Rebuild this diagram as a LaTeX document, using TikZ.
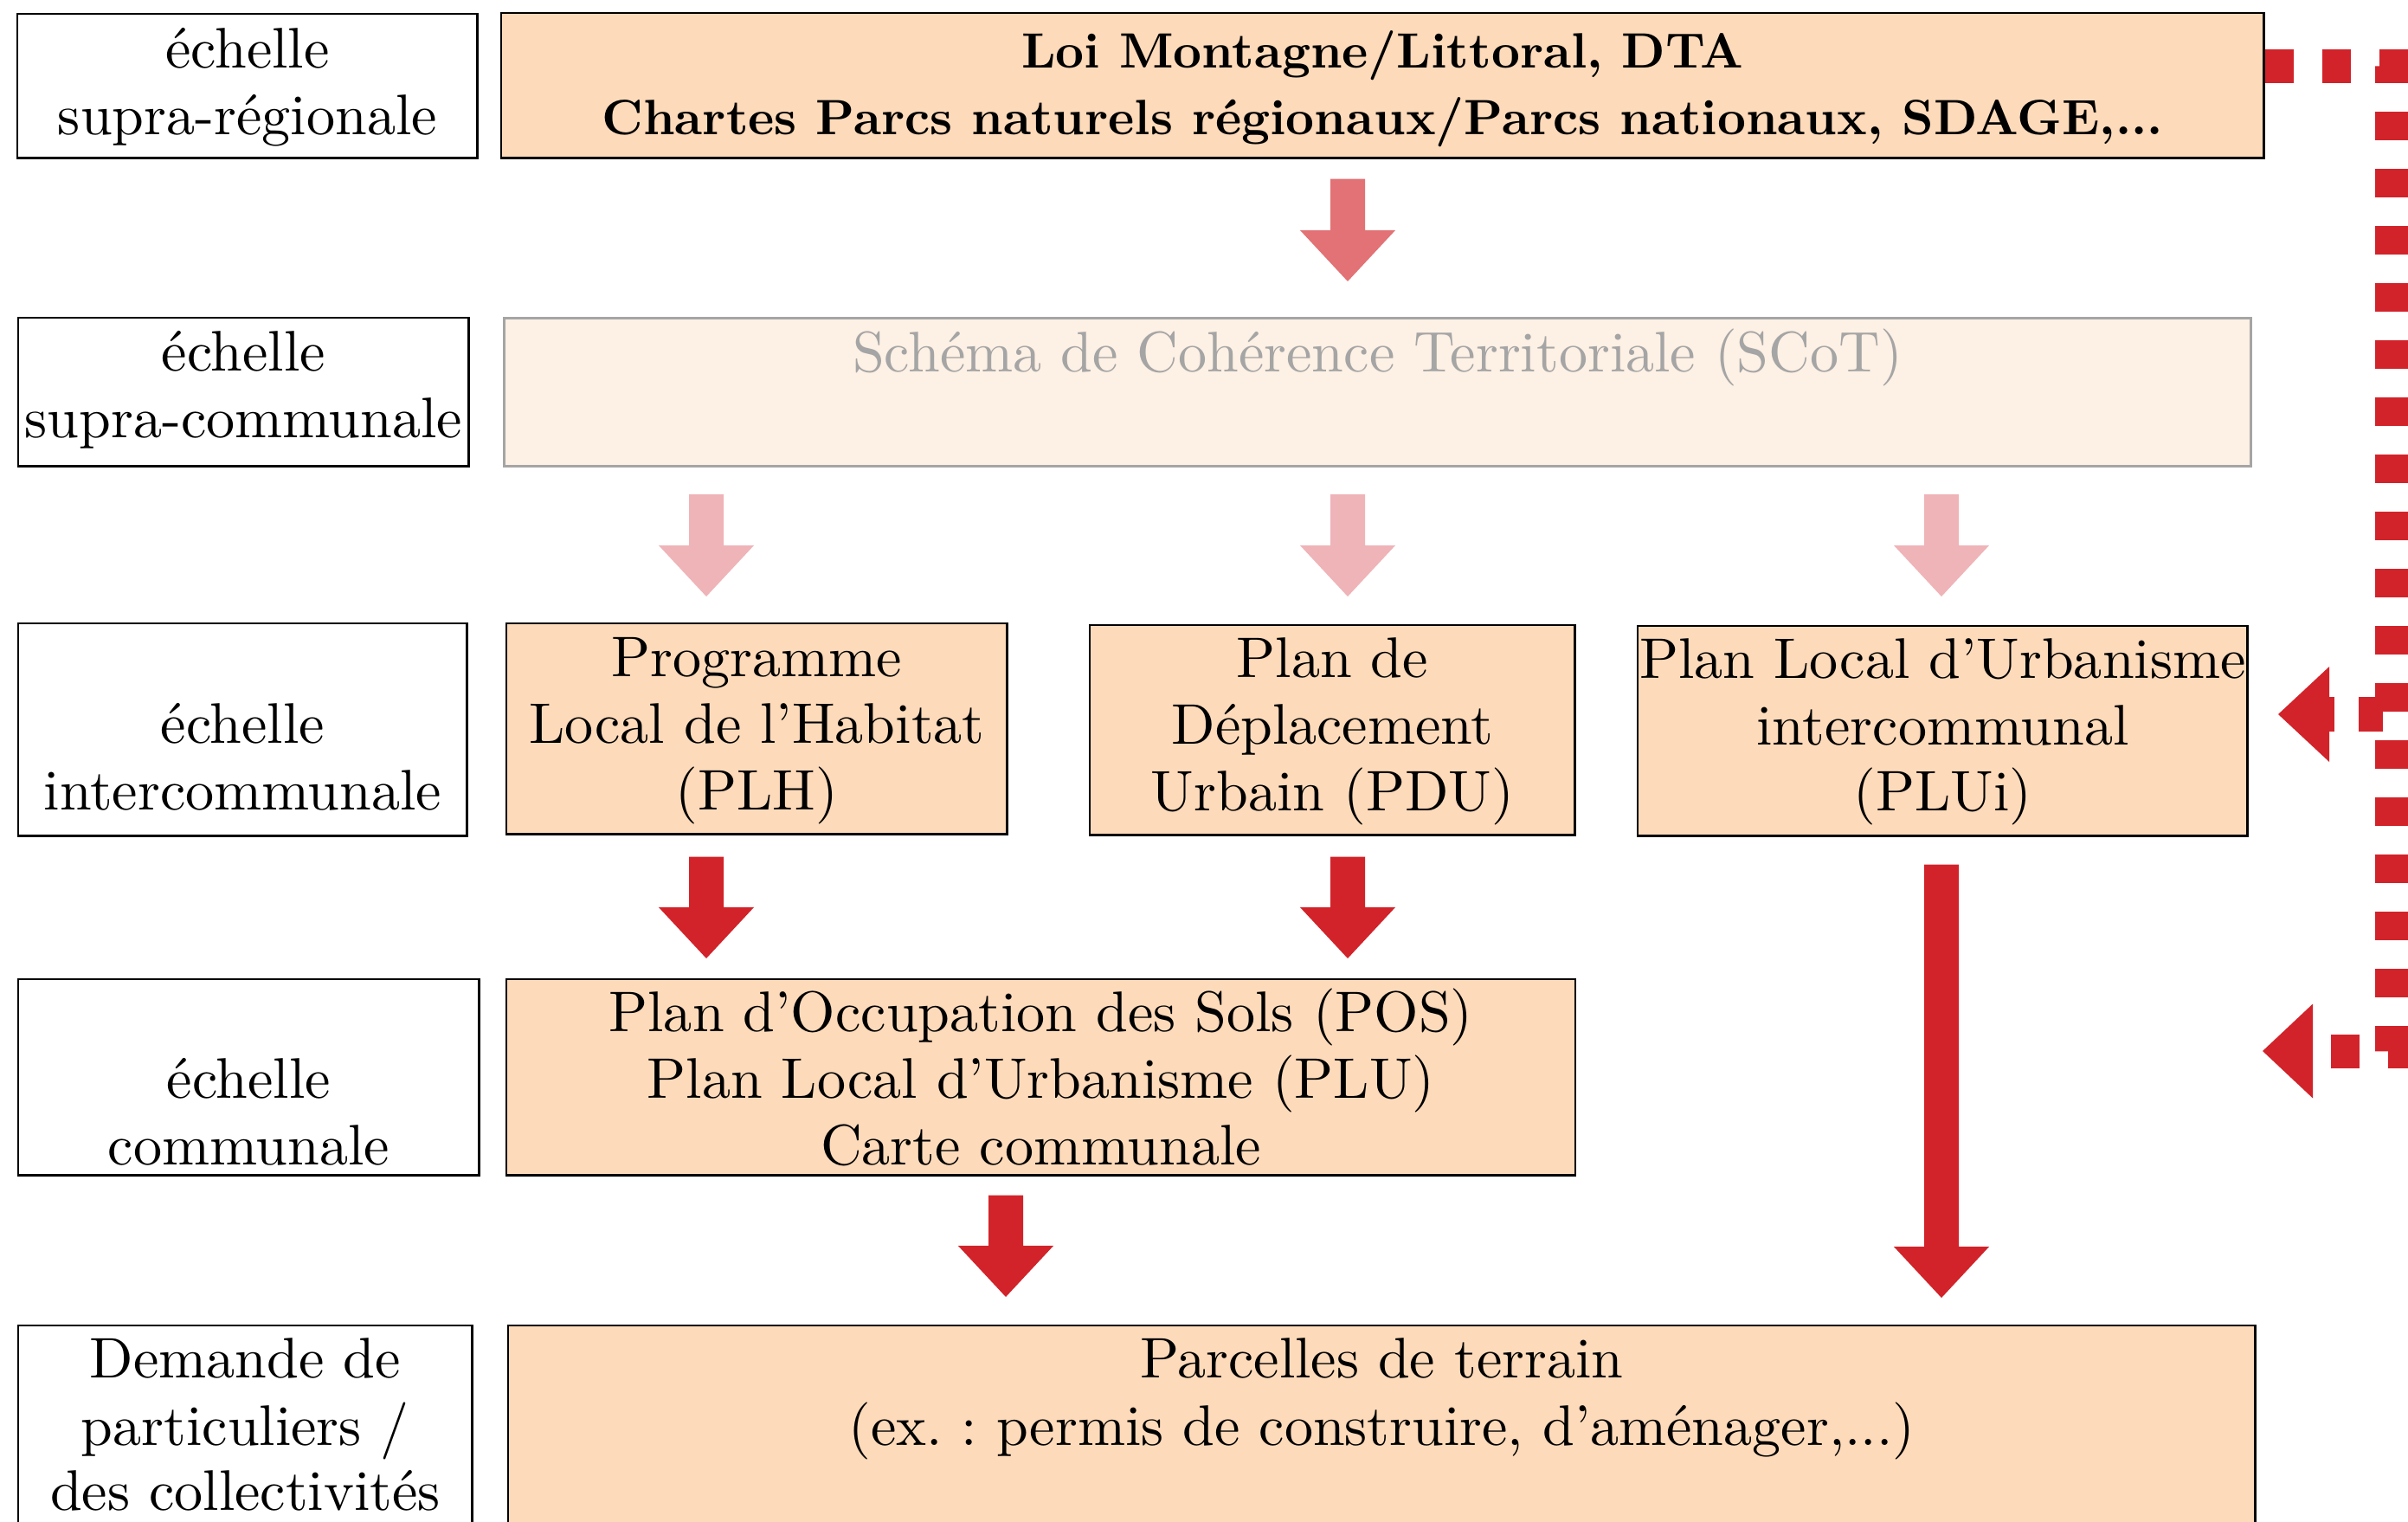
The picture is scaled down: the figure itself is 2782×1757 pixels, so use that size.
\documentclass[tikz,border=0pt]{standalone}
\usepackage{fontspec}
\setmainfont{lmroman10-regular.otf}[BoldFont=lmroman10-bold.otf]
\frenchspacing
\usetikzlibrary{calc}
\definecolor{peach}{HTML}{FCDABA}
\definecolor{scotfill}{HTML}{FDF0E4}
\definecolor{scotgray}{HTML}{A5A5A5}
\definecolor{redA}{HTML}{D2232A}
\definecolor{redB}{HTML}{E27275}
\definecolor{redC}{HTML}{EFB4B8}
\newcommand\barrow[3]{%
  \fill[#3] let \p1=#1, \p2=#2 in
  (\x1-0.2cm,\y1) -- (\x1+0.2cm,\y1) -- (\x1+0.2cm,\y2+0.59cm) -- (\x1+0.55cm,\y2+0.59cm)
  -- (\x1,\y2) -- (\x1-0.55cm,\y2+0.59cm) -- (\x1-0.2cm,\y2+0.59cm) -- cycle;}
\begin{document}
\begin{tikzpicture}[x=0.01cm,y=-0.01cm,
  lab/.style={draw=black, line width=0.7pt, fill=white, inner sep=0pt, anchor=north west},
  box/.style={draw=black, line width=0.7pt, fill=peach, inner sep=0pt, anchor=north west},
  scotbox/.style={draw=scotgray, line width=0.8pt, fill=scotfill, inner sep=0pt, anchor=north west},
  txt/.style={anchor=base, inner sep=0pt, font=\fontsize{18.8}{22}\selectfont},
  btxt/.style={anchor=base, inner sep=0pt, font=\fontsize{16.3}{20}\selectfont\bfseries},
  gtxt/.style={txt, text=scotgray},
  dots/.style={draw=redA, line width=0.39cm, dash pattern=on 0.33cm off 0.33cm}]
\useasboundingbox (0,0) rectangle (2782,1757);
\clip (0,0) rectangle (2782,1757);
% boxes
\node[lab, minimum width=5.31cm, minimum height=1.66cm] (L1) at (19,15) {};
\node[box, minimum width=20.35cm, minimum height=1.67cm] (TOP) at (578,14) {};
\node[lab, minimum width=5.20cm, minimum height=1.71cm] (L2) at (20,366) {};
\node[scotbox, minimum width=20.17cm, minimum height=1.71cm] (SCOT) at (581,366) {};
\node[lab, minimum width=5.18cm, minimum height=2.45cm] (L3) at (20,719) {};
\node[box, minimum width=5.78cm, minimum height=2.43cm] (PLH) at (584,719) {};
\node[box, minimum width=5.60cm, minimum height=2.42cm] (PDU) at (1258,721) {};
\node[box, minimum width=7.04cm, minimum height=2.42cm] (PLUI) at (1891,722) {};
\node[lab, minimum width=5.32cm, minimum height=2.26cm] (L4) at (20,1130) {};
\node[box, minimum width=12.34cm, minimum height=2.26cm] (POS) at (584,1130) {};
\node[lab, minimum width=5.24cm, minimum height=3.00cm] (L5) at (20,1530) {};
\node[box, minimum width=20.17cm, minimum height=3.00cm] (PARC) at (586,1530) {};
% texts
\node[txt] (L1a) at ($(L1.north)+(0,63)$) {échelle};
\node[txt] (L1b) at ($(L1.north)+(0,140)$) {supra-régionale};
\node[btxt] (TOPa) at ($(TOP.north)+(0,64)$) {Loi Montagne/Littoral, DTA};
\node[btxt] (TOPb) at ($(TOP.north)+(0,141)$) {Chartes Parcs naturels régionaux/Parcs nationaux, SDAGE,...};
\node[txt] (L2a) at ($(L2.north)+(0,62)$) {échelle};
\node[txt] (L2b) at ($(L2.north)+(0,139)$) {supra-communale};
\node[gtxt] (SCOTa) at ($(SCOT.north)+(0,63)$) {Schéma de Cohérence Territoriale (SCoT)};
\node[txt] (L3a) at ($(L3.north)+(0,139)$) {échelle};
\node[txt] (L3b) at ($(L3.north)+(0,216)$) {intercommunale};
\node[txt] (PLHa) at ($(PLH.north)+(0,62.5)$) {Programme};
\node[txt] (PLHb) at ($(PLH.north)+(0,139)$) {Local de l’Habitat};
\node[txt] (PLHc) at ($(PLH.north)+(0,216)$) {(PLH)};
\node[txt] (PDUa) at ($(PDU.north)+(0,61)$) {Plan de};
\node[txt] (PDUb) at ($(PDU.north)+(0,138)$) {Déplacement};
\node[txt] (PDUc) at ($(PDU.north)+(0,215)$) {Urbain (PDU)};
\node[txt] (PLUIa) at ($(PLUI.north)+(0,61)$) {Plan Local d’Urbanisme};
\node[txt] (PLUIb) at ($(PLUI.north)+(0,138)$) {intercommunal};
\node[txt] (PLUIc) at ($(PLUI.north)+(0,214)$) {(PLUi)};
\node[txt] (L4a) at ($(L4.north)+(0,138)$) {échelle};
\node[txt] (L4b) at ($(L4.north)+(0,215)$) {communale};
\node[txt] (POSa) at ($(POS.north)+(0,61)$) {Plan d’Occupation des Sols (POS)};
\node[txt] (POSb) at ($(POS.north)+(0,138)$) {Plan Local d’Urbanisme (PLU)};
\node[txt] (POSc) at ($(POS.north)+(0,215)$) {Carte communale};
\node[txt] (L5a) at ($(L5.north)+(0,61.5)$) {Demande de};
\node[txt] (L5b) at ($(L5.north)+(0,139)$) {particuliers /};
\node[txt] (L5c) at ($(L5.north)+(0,214)$) {des collectivités};
\node[txt] (PARCa) at ($(PARC.north)+(0,61.5)$) {Parcelles de terrain};
\node[txt] (PARCb) at ($(PARC.north)+(0,139)$) {(ex.~: permis de construire, d’aménager,...)};
% arrow columns
\coordinate (c1) at (816,0);
\coordinate (c2) at (1557,0);
\coordinate (c3) at (2243,0);
\coordinate (c4) at (1162,0);
% block arrows
\barrow{($(c2|-TOP.south)+(0,23)$)}{($(c2|-SCOT.north)+(0,-41)$)}{redB}
\barrow{($(c1|-SCOT.south)+(0,31)$)}{($(c1|-PLH.north)+(0,-30)$)}{redC}
\barrow{($(c2|-SCOT.south)+(0,31)$)}{($(c2|-PDU.north)+(0,-32)$)}{redC}
\barrow{($(c3|-SCOT.south)+(0,31)$)}{($(c3|-PLUI.north)+(0,-33)$)}{redC}
\barrow{($(c1|-PLH.south)+(0,25)$)}{($(c1|-POS.north)+(0,-23)$)}{redA}
\barrow{($(c2|-PDU.south)+(0,24)$)}{($(c2|-POS.north)+(0,-23)$)}{redA}
\barrow{($(c4|-POS.south)+(0,22)$)}{($(c4|-PARC.north)+(0,-32)$)}{redA}
\barrow{($(c3|-PLUI.south)+(0,32)$)}{($(c3|-PARC.north)+(0,-31)$)}{redA}
% dotted connector
\coordinate (dv) at (2763,0);
\coordinate (tipUp) at (2632,825);
\coordinate (tipLow) at (2614,1214);
\draw[dots] ($(TOP.east)+(0,-22)$) -- ($(dv|-TOP.east)+(0,-22)$) -- (dv|-tipLow) -- ($(tipLow)+(58,0)$);
\draw[dots, line width=0.4cm, dash pattern=on 0.28cm off 0.28cm] ($(dv|-tipUp)+(-10,0)$) -- ($(tipUp)+(59,0)$);
\fill[redA] (tipUp) -- ++(59,-55) -- ++(0,110) -- cycle;
\fill[redA] (tipLow) -- ++(58,-54.5) -- ++(0,109) -- cycle;
\end{tikzpicture}
\end{document}
